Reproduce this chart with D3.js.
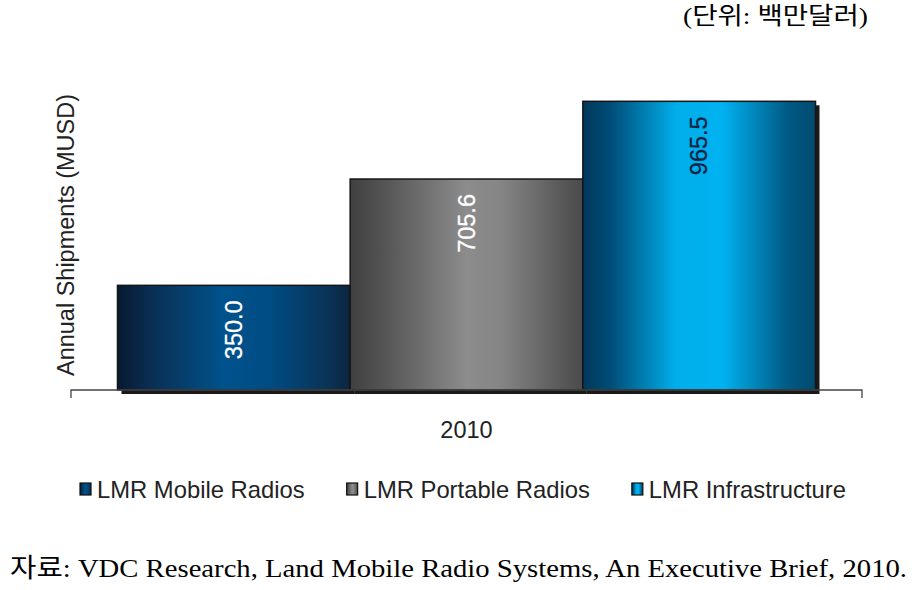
<!DOCTYPE html>
<html><head><meta charset="utf-8">
<script src="https://cdn.jsdelivr.net/npm/d3@7"></script>
<style>body{margin:0;background:#fff;}svg{display:block;}</style>
</head><body>
<svg id="chart" width="916" height="590"></svg>
<script>
const categories = ["2010"];
const seriesNames = ["LMR Mobile Radios", "LMR Portable Radios", "LMR Infrastructure"];
const seriesValues = [350.0, 705.6, 965.5];
const valueLabels = ["350.0", "705.6", "965.5"];
const unitText = "(단위:  백만달러)";
const yTitle = "Annual Shipments (MUSD)";
const sourceText = "자료: VDC Research, Land Mobile Radio Systems, An Executive Brief, 2010.";

const svg = d3.select("#chart");
const defs = svg.append("defs");
const grads = [
  {id:"g0", stops:[["0%","#061a30"],["15%","#0a2f55"],["45%","#00528c"],["65%","#004c84"],["90%","#0a3458"],["100%","#0b2540"]], label:"#ffffff"},
  {id:"g1", stops:[["0%","#404040"],["15%","#555555"],["50%","#8c8c8c"],["65%","#858585"],["90%","#5a5a5a"],["100%","#4a4a4a"]], label:"#ffffff"},
  {id:"g2", stops:[["0%","#00395a"],["12%","#004d78"],["40%","#00aeea"],["60%","#00b2f0"],["88%","#005a85"],["100%","#004a6e"]], label:"#0a2345"}
];
grads.forEach(g => {
  const lg = defs.append("linearGradient").attr("id", g.id).attr("x1","0").attr("x2","1").attr("y1","0").attr("y2","0");
  g.stops.forEach(s => lg.append("stop").attr("offset", s[0]).attr("stop-color", s[1]));
});

const x0 = d3.scaleBand().domain(categories).range([71, 862]).paddingOuter(0.0666).paddingInner(0);
const x1 = d3.scaleBand().domain(seriesNames).range([0, x0.bandwidth()]).padding(0);
const y = d3.scaleLinear().domain([0, 1000]).range([390, 91]);

const data = seriesNames.map((s, i) => ({name: s, value: seriesValues[i], label: valueLabels[i], cat: categories[0], i}));

// shadows
svg.append("g").selectAll("rect").data(data).join("rect")
  .attr("x", d => x0(d.cat) + x1(d.name) + 4)
  .attr("y", d => y(d.value) + 4)
  .attr("width", x1.bandwidth())
  .attr("height", d => y(0) - y(d.value))
  .attr("fill", "#1a1a1a");

// bars
svg.append("g").selectAll("rect").data(data).join("rect")
  .attr("x", d => x0(d.cat) + x1(d.name))
  .attr("y", d => y(d.value))
  .attr("width", x1.bandwidth())
  .attr("height", d => y(0) - y(d.value))
  .attr("fill", d => `url(#${grads[d.i].id})`)
  .attr("stroke", "#151515").attr("stroke-width", 1.5);

// value labels
svg.append("g").selectAll("text").data(data).join("text")
  .attr("transform", d => `translate(${x0(d.cat) + x1(d.name) + x1.bandwidth()/2 + 8},${y(d.value) + 15}) rotate(-90)`)
  .attr("text-anchor", "end")
  .attr("font-family", "Liberation Sans, Arial, sans-serif")
  .attr("font-size", 23.5)
  .attr("stroke", d => grads[d.i].label).attr("stroke-width", 0.3)
  .attr("fill", d => grads[d.i].label)
  .text(d => d.label);

// x axis
const axisG = svg.append("g").attr("transform", `translate(0,${y(0)})`);
axisG.append("path")
  .attr("d", `M${x0.range()[0]},8V0H${x0.range()[1]}V8`)
  .attr("fill", "none").attr("stroke", "#444").attr("stroke-width", 1.3);
axisG.selectAll("text.cat").data(categories).join("text")
  .attr("class", "cat")
  .attr("x", d => x0(d) + x0.bandwidth()/2)
  .attr("y", 48)
  .attr("text-anchor", "middle")
  .attr("font-family", "Liberation Sans, Arial, sans-serif")
  .attr("font-size", 23.5).attr("fill", "#222")
  .text(d => d);

// y title
svg.append("text")
  .attr("transform", `translate(74,${(92 + 378)/2}) rotate(-90)`)
  .attr("text-anchor", "middle")
  .attr("font-family", "Liberation Sans, Arial, sans-serif")
  .attr("font-size", 23.5).attr("fill", "#222")
  .text(yTitle);

// legend
const legend = svg.append("g").attr("transform", "translate(80,489)");
let lx = 0;
data.forEach(d => {
  const item = legend.append("g").attr("transform", `translate(${lx},0)`);
  item.append("rect").attr("x", 0).attr("y", -6).attr("width", 11).attr("height", 12)
    .attr("fill", `url(#${grads[d.i].id})`).attr("stroke", "#111").attr("stroke-width", 1.2);
  const t = item.append("text").attr("x", 17).attr("y", 8.5)
    .attr("font-family", "Liberation Sans, Arial, sans-serif")
    .attr("font-size", 23.8).attr("fill", "#222").text(d.name);
  lx += 17 + t.node().getComputedTextLength() + 42;
});

// unit
svg.append("text")
  .attr("x", 683).attr("y", 24)
  .attr("textLength", 185).attr("lengthAdjust", "spacingAndGlyphs")
  .attr("font-family", "Liberation Serif, Noto Sans CJK KR, serif")
  .attr("font-size", 24).attr("fill", "#000")
  .text(unitText);

// source
svg.append("text")
  .attr("x", 10).attr("y", 577)
  .attr("textLength", 897).attr("lengthAdjust", "spacingAndGlyphs")
  .attr("font-family", "Liberation Serif, Noto Sans CJK KR, serif")
  .attr("font-size", 26).attr("fill", "#000")
  .text(sourceText);
</script>
</body></html>
